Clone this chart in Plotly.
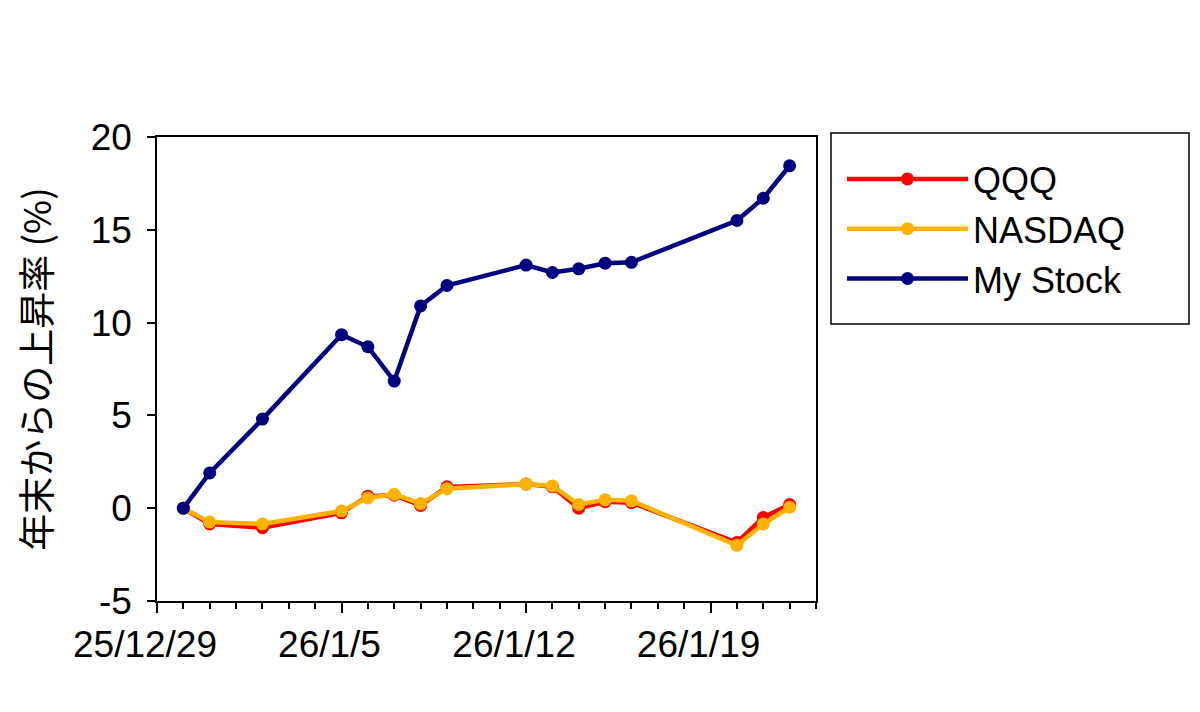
import plotly.graph_objects as go

dates = ["2025-12-30", "2025-12-31", "2026-01-02", "2026-01-05", "2026-01-06",
         "2026-01-07", "2026-01-08", "2026-01-09", "2026-01-12", "2026-01-13",
         "2026-01-14", "2026-01-15", "2026-01-16", "2026-01-20", "2026-01-21",
         "2026-01-22"]
qqq = [0.0, -0.85, -1.05, -0.25, 0.65, 0.7, 0.15, 1.15, 1.3, 1.15, 0.0, 0.35, 0.3, -1.85, -0.5, 0.2]
nasdaq = [0.0, -0.75, -0.85, -0.15, 0.55, 0.75, 0.25, 1.05, 1.3, 1.2, 0.2, 0.45, 0.4, -2.0, -0.85, 0.05]
my_stock = [0.0, 1.9, 4.8, 9.35, 8.7, 6.85, 10.9, 12.0, 13.1, 12.7, 12.9, 13.2, 13.25, 15.5, 16.7, 18.45]

y_tick_vals = [-5, 0, 5, 10, 15, 20]
y_tick_text = ["-5", "0", "5", "10", "15", "20"]

series = [("QQQ", qqq, "#FF0000"), ("NASDAQ", nasdaq, "#FFB200"), ("My Stock", my_stock, "#000080")]

fig = go.Figure()
for name, vals, color in series:
    fig.add_trace(go.Scatter(
        x=dates, y=vals, name=name, mode="lines+markers",
        line=dict(color=color, width=4.5),
        marker=dict(color=color, size=13),
    ))

font_family = "Liberation Sans, Arial, Noto Sans CJK JP, sans-serif"

# body margin of the page offsets the figure by 8px
OFF = 8
L, R, T, B = 157, 816, 137, 601  # plot area in screen pixels
W, H = R - L, B - T

def px_x(p):
    return (p - L) / W

def px_y(p):
    return (B - p) / H

fig.add_shape(type="rect", xref="paper", yref="paper",
              x0=px_x(831), x1=px_x(1189), y0=px_y(324), y1=px_y(133),
              line=dict(color="black", width=1.5), fillcolor="rgba(0,0,0,0)")

fig.update_layout(
    width=1200, height=712,
    margin=dict(l=L - OFF, r=1200 - R + OFF, t=T - OFF, b=712 - B + OFF, autoexpand=False),
    paper_bgcolor="white", plot_bgcolor="white",
    font=dict(family=font_family, size=36, color="black"),
    showlegend=True,
    legend=dict(
        x=px_x(842), y=px_y(149), xanchor="left", yanchor="top",
        borderwidth=0,
        font=dict(size=36, family=font_family),
        itemwidth=121,
        tracegroupgap=0,
        bgcolor="rgba(0,0,0,0)",
    ),
    xaxis=dict(
        type="date",
        range=["2025-12-29", "2026-01-23"],
        tick0="2025-12-29", dtick=7 * 86400000,
        tickformat="%y/%-m/%-d",
        ticks="outside", ticklen=10, tickwidth=1.5, tickcolor="black",
        minor=dict(dtick=86400000, tick0="2025-12-29", ticks="outside", ticklen=6,
                   tickwidth=1.5, tickcolor="black", showgrid=False),
        showline=True, linecolor="black", linewidth=1.5, mirror=True,
        showgrid=False, zeroline=False, automargin=False,
        tickfont=dict(size=37), ticklabelshift=-12,
    ),
    yaxis=dict(
        range=[-5, 20], tickvals=y_tick_vals, ticktext=y_tick_text,
        ticks="outside", ticklen=8, tickwidth=1.5, tickcolor="black",
        showline=True, linecolor="black", linewidth=1.5, mirror=True,
        showgrid=False, zeroline=False, automargin=False,
        tickfont=dict(size=37), ticklabelstandoff=8,
        title=dict(text="年末からの上昇率 (%)", font=dict(size=37, family="Noto Sans CJK JP, sans-serif"), standoff=30),
    ),
)

fig.write_html("out.html")
